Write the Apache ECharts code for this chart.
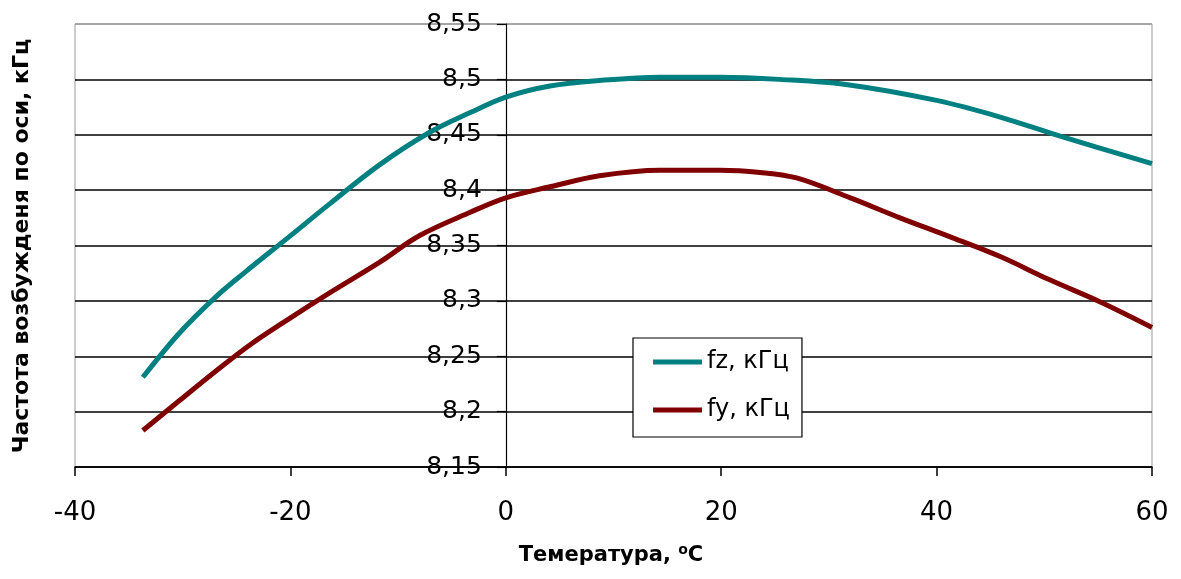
<!DOCTYPE html>
<html>
<head>
<meta charset="utf-8">
<script src="https://cdn.jsdelivr.net/npm/echarts@6/dist/echarts.min.js"></script>
<style>
  html, body { margin: 0; padding: 0; background: #fff; }
  #chart { width: 1181px; height: 579px; }
</style>
</head>
<body>
<div id="chart"></div>
<script>
// Temperature, °C, and excitation frequency along each axis, kHz
const tempFz = [-33.7, -30.3, -27.0, -24.2, -20.1, -16.3, -11.7, -7.1, -3.3, 0, 4.1, 8.7, 14.3, 19.9, 25.4, 31.9, 40, 45.9, 51.4, 60];
const fz     = [8.231, 8.271, 8.303, 8.326, 8.358, 8.388, 8.423, 8.452, 8.470, 8.484, 8.494, 8.499, 8.502, 8.502, 8.500, 8.495, 8.481, 8.466, 8.449, 8.424];

const tempFy = [-33.7, -30.3, -27.0, -23.8, -20.1, -16.4, -11.7, -8.0, -3.3, 0, 4.1, 8.7, 14.3, 19.9, 23.6, 27.0, 32.0, 36.6, 41.2, 45.9, 50.5, 55.2, 60];
const fy     = [8.183, 8.210, 8.236, 8.260, 8.284, 8.307, 8.335, 8.359, 8.380, 8.393, 8.403, 8.413, 8.418, 8.418, 8.416, 8.411, 8.393, 8.375, 8.358, 8.340, 8.319, 8.299, 8.276];

const xTicks = [-40, -20, 0, 20, 40, 60];
const yTickLabels = ['8,15', '8,2', '8,25', '8,3', '8,35', '8,4', '8,45', '8,5', '8,55'];

const seriesNames = ['fz, кГц', 'fy, кГц'];
const xTitle = 'Темература, ';
const yTitle = 'Частота возбужденя по оси, кГц';

const FONT = 'DejaVu Sans';
const GRID = { left: 75, right: 29, top: 24, bottom: 112 };
const plotWidth = 1181 - GRID.left - GRID.right;
const xMin = xTicks[0], xMax = xTicks[xTicks.length - 1];
// the value axis crosses the temperature axis at 0 °C
const yAxisShift = plotWidth * (0 - xMin) / (xMax - xMin);

const chart = echarts.init(document.getElementById('chart'));
const pairs = (xs, ys) => xs.map((x, i) => [x, ys[i]]);

chart.setOption({
  animation: false,
  backgroundColor: '#ffffff',
  grid: Object.assign({ show: true, borderColor: '#999', borderWidth: 1, backgroundColor: '#fff' }, GRID),
  xAxis: {
    type: 'value',
    min: xMin, max: xMax, interval: 20,
    axisLine: { lineStyle: { color: '#000', width: 1.5 } },
    axisTick: { show: true, inside: false, length: 9, lineStyle: { color: '#000', width: 1.5 } },
    axisLabel: { color: '#000', fontFamily: FONT, fontSize: 26, margin: 33 },
    splitLine: { show: false }
  },
  yAxis: {
    type: 'value',
    min: 8.15, max: 8.55, interval: 0.05,
    offset: -yAxisShift,
    axisLine: { show: true, onZero: false, lineStyle: { color: '#000', width: 1.2 } },
    axisTick: { show: true, inside: false, length: 9, lineStyle: { color: '#000', width: 1.2 } },
    axisLabel: {
      color: '#000', fontFamily: FONT, fontSize: 25, margin: 24,
      formatter: v => yTickLabels[Math.round((v - 8.15) / 0.05)]
    },
    splitLine: {
      show: true,
      lineStyle: { color: ['#000', '#000', '#000', '#000', '#000', '#000', '#000', '#000', '#999'], width: 1.5 }
    }
  },
  legend: {
    orient: 'vertical',
    left: 633, top: 338,
    padding: [12, 12, 15, 20],
    itemGap: 24,
    itemWidth: 49, itemHeight: 5,
    icon: 'rect',
    backgroundColor: '#fff',
    borderColor: '#000', borderWidth: 1.2, borderRadius: 0,
    textStyle: { color: '#000', fontFamily: FONT, fontSize: 24 },
    data: seriesNames
  },
  series: [
    {
      name: seriesNames[0], type: 'line', smooth: 0.35, showSymbol: false,
      lineStyle: { color: '#008080', width: 5 }, itemStyle: { color: '#008080' },
      data: pairs(tempFz, fz)
    },
    {
      name: seriesNames[1], type: 'line', smooth: 0.35, showSymbol: false,
      lineStyle: { color: '#800000', width: 5 }, itemStyle: { color: '#800000' },
      data: pairs(tempFy, fy)
    }
  ],
  graphic: [
    {
      type: 'text', x: 611, y: 556,
      style: {
        text: '{a|' + xTitle + '}{s|o}{a|C}',
        align: 'center', verticalAlign: 'middle',
        textAlign: 'center', textVerticalAlign: 'middle',
        rich: {
          a: { fontFamily: FONT, fontWeight: 'bold', fontSize: 21, lineHeight: 25, fill: '#000', color: '#000' },
          s: { fontFamily: FONT, fontWeight: 'bold', fontSize: 14, lineHeight: 22, verticalAlign: 'top', fill: '#000', color: '#000' }
        }
      }
    },
    {
      type: 'text', x: 22, y: 246, rotation: Math.PI / 2,
      style: {
        text: yTitle,
        fontFamily: FONT, fontWeight: 'bold', fontSize: 22, fill: '#000',
        align: 'center', verticalAlign: 'middle',
        textAlign: 'center', textVerticalAlign: 'middle'
      }
    }
  ]
});
</script>
</body>
</html>
